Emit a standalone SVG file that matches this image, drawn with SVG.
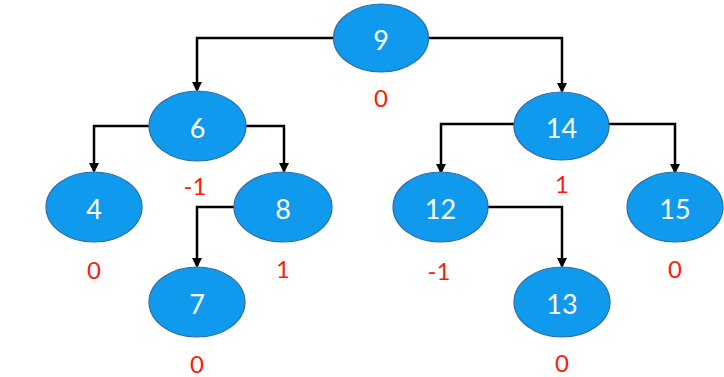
<svg xmlns="http://www.w3.org/2000/svg" width="724" height="377" viewBox="0 0 724 377">
<defs>
<marker id="ah" markerWidth="10" markerHeight="10" refX="8" refY="5" orient="auto" markerUnits="userSpaceOnUse">
<path d="M0,0 L10,5 L0,10 Z" fill="#000"/>
</marker>
<style>
.n ellipse{fill:#0F9AEE;stroke:#2E6EA6;stroke-width:1.2}
.n text{fill:#fff;font-family:Lato,"Open Sans","Liberation Sans",sans-serif;font-size:27px;text-anchor:middle;dominant-baseline:central}
.b{fill:#FF1A0A;font-family:Lato,"Open Sans","Liberation Sans",sans-serif;font-size:24px;text-anchor:middle;dominant-baseline:central}
.c path{fill:none;stroke:#000;stroke-width:2.5;marker-end:url(#ah)}
</style>
</defs>
<rect width="724" height="377" fill="#fff"/>
<g class="c" id="connectors">
<path d="M334,38 H197 V90"/>
<path d="M429,38 H562 V91"/>
<path d="M149,126 H94 V171"/>
<path d="M246,126 H284 V171"/>
<path d="M234,207 H197 V266"/>
<path d="M514,124 H441 V172"/>
<path d="M609,124 H675 V172"/>
<path d="M488,207 H562 V266"/>
</g>
<g class="n" id="n9"><ellipse cx="381" cy="38" rx="47.5" ry="34"/><text x="381" y="39">9</text></g>
<g class="n" id="n6"><ellipse cx="197.5" cy="126" rx="48.5" ry="35"/><text x="197.5" y="127">6</text></g>
<g class="n" id="n4"><ellipse cx="94" cy="207" rx="48" ry="35"/><text x="94" y="208">4</text></g>
<g class="n" id="n8"><ellipse cx="283" cy="207" rx="49" ry="35"/><text x="283" y="208">8</text></g>
<g class="n" id="n7"><ellipse cx="197" cy="302" rx="48" ry="35"/><text x="197" y="303">7</text></g>
<g class="n" id="n14"><ellipse cx="561.5" cy="126" rx="47.5" ry="34"/><text x="561.5" y="127">14</text></g>
<g class="n" id="n12"><ellipse cx="440.5" cy="207" rx="47.5" ry="35"/><text x="440.5" y="208">12</text></g>
<g class="n" id="n15"><ellipse cx="675" cy="207" rx="48" ry="35"/><text x="675" y="208">15</text></g>
<g class="n" id="n13"><ellipse cx="562" cy="302" rx="48" ry="35"/><text x="562" y="303">13</text></g>
<g id="balance">
<text class="b" x="381" y="97">0</text>
<text class="b" x="195" y="185">-1</text>
<text class="b" x="94" y="269">0</text>
<text class="b" x="283" y="268">1</text>
<text class="b" x="197" y="363">0</text>
<text class="b" x="562" y="183">1</text>
<text class="b" x="439" y="270">-1</text>
<text class="b" x="675" y="268">0</text>
<text class="b" x="562" y="362">0</text>
</g>
</svg>
